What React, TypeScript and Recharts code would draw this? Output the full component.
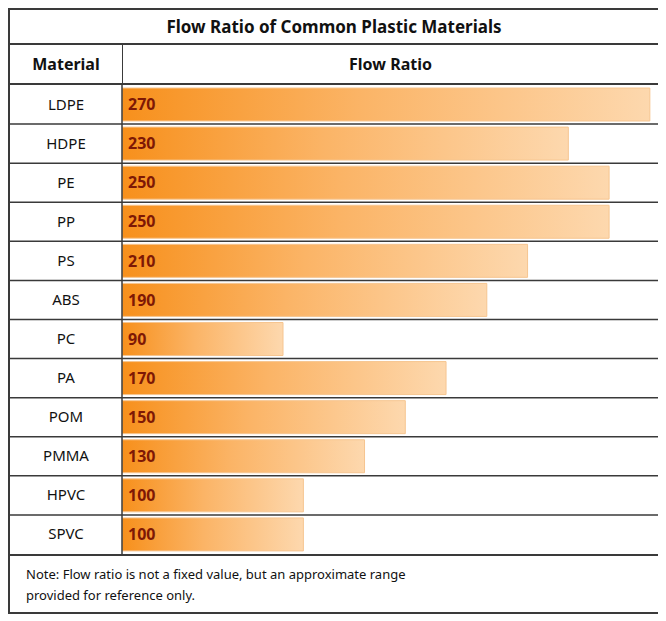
import React from 'react';
import { BarChart, Bar, XAxis, YAxis, LabelList } from 'recharts';

const materials = ['LDPE', 'HDPE', 'PE', 'PP', 'PS', 'ABS', 'PC', 'PA', 'POM', 'PMMA', 'HPVC', 'SPVC'];
const flowRatios = [270, 230, 250, 250, 210, 190, 90, 170, 150, 130, 100, 100];

const data = materials.map((name, i) => ({ name, ratio: flowRatios[i] }));

const FONT = '"Noto Sans", "Open Sans", sans-serif';
const LINE = '#3a3a3a';
const CHART_W = 648;
const CHART_H = 469;
const LEFT_COL = 112;

// category label, plus the row separator running across the whole table
const RowTick = (props: any) => {
  const { y, payload, index } = props;
  const band = CHART_H / materials.length;
  const bottom = y + band / 2;
  return (
    <g>
      <text
        x={LEFT_COL / 2}
        y={y}
        dy={5}
        textAnchor="middle"
        fill="#111"
        fontSize={15}
        fontFamily={FONT}
      >
        {payload.value}
      </text>
      {index < materials.length - 1 && (
        <line x1={0} x2={CHART_W} y1={bottom} y2={bottom} stroke={LINE} strokeWidth={1.5} />
      )}
    </g>
  );
};

export default function App() {
  return (
    <div
      style={{
        width: 648,
        border: `2px solid ${LINE}`,
        fontFamily: FONT,
        color: '#111',
        background: '#fff',
      }}
    >
      <div
        style={{
          height: 33,
          lineHeight: '33px',
          textAlign: 'center',
          fontWeight: 700,
          fontSize: 17,
          borderBottom: `2px solid ${LINE}`,
        }}
      >
        Flow Ratio of Common Plastic Materials
      </div>
      <div style={{ display: 'flex', height: 38, lineHeight: '38px', fontWeight: 700, fontSize: 16, borderBottom: `2px solid ${LINE}` }}>
        <div style={{ width: LEFT_COL, textAlign: 'center', borderRight: `1.5px solid ${LINE}` }}>Material</div>
        <div style={{ flex: 1, textAlign: 'center' }}>Flow Ratio</div>
      </div>
      <BarChart
        width={CHART_W}
        height={CHART_H}
        data={data}
        layout="vertical"
        margin={{ top: 0, right: 0, bottom: 0, left: 0 }}
        barCategoryGap={3}
      >
        <defs>
          <linearGradient id="flowFill" x1="0" y1="0" x2="1" y2="0">
            <stop offset="0%" stopColor="#f7901c" />
            <stop offset="45%" stopColor="#fbb466" />
            <stop offset="100%" stopColor="#fdd8ae" />
          </linearGradient>
        </defs>
        <XAxis type="number" domain={[11, 274]} hide allowDataOverflow />
        <YAxis
          type="category"
          dataKey="name"
          width={LEFT_COL}
          tickLine={false}
          axisLine={{ stroke: LINE, strokeWidth: 1.5 }}
          tick={<RowTick />}
          interval={0}
        />
        <Bar dataKey="ratio" fill="url(#flowFill)" stroke="#f6c590" strokeWidth={1} isAnimationActive={false}>
          <LabelList
            dataKey="ratio"
            position="insideLeft"
            offset={6}
            fill="#7e1805"
            fontSize={16}
            fontWeight={700}
            fontFamily={FONT}
          />
        </Bar>
      </BarChart>
      <div style={{ borderTop: `2px solid ${LINE}`, padding: '8px 0 6px 16px', fontSize: 13, lineHeight: '21px' }}>
        <div style={{ width: 374, textAlign: 'justify', textAlignLast: 'justify', whiteSpace: 'nowrap', overflow: 'visible' }}>
          Note: Flow ratio is not a fixed value, but an approximate range
        </div>
        <div>provided for reference only.</div>
      </div>
    </div>
  );
}
